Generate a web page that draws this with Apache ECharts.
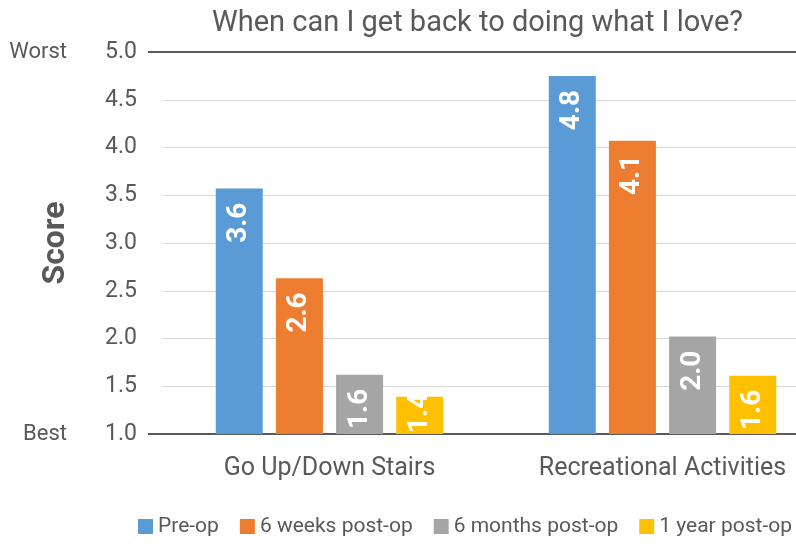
<!DOCTYPE html>
<html style="height: 100%">
<head>
<meta charset="utf-8">
</head>
<body style="height: 100%; margin: 0; overflow: hidden">
	<div id="container" style="width: 829px; height: 546px"></div>
	<script type="text/javascript" src="https://cdn.jsdelivr.net/npm/echarts@6/dist/echarts.min.js"></script>
	<script type="text/javascript">
		var categories = ['Go Up/Down Stairs', 'Recreational Activities'];
		var seriesNames = ['Pre-op', '6 weeks post-op', '6 months post-op', '1 year post-op'];
		var preOp = [3.57, 4.75];
		var sixWeeks = [2.63, 4.07];
		var sixMonths = [1.62, 2.02];
		var oneYear = [1.39, 1.61];
		var colors = ['#5B9BD5', '#ED7D31', '#A5A5A5', '#FFC000'];
		var endLabels = {1: 'Best', 5: 'Worst'};

		var font = 'Roboto';
		var textColor = '#595959';
		var dom = document.getElementById("container");
		var myChart = echarts.init(dom);

		// keep a label inside its bar when the bar is short
		function fitLabel(params) {
			var bar = params.rect, lab = params.labelRect;
			var over = (lab.y + lab.height) - (bar.y + bar.height - 1);
			if (over > 0) {
				return {y: lab.y - over};
			}
			return {};
		}

		function makeSeries(name, values, color) {
			return {
				name: name,
				type: 'bar',
				data: values,
				barWidth: 47,
				barGap: '28%',
				itemStyle: {color: color},
				labelLayout: fitLabel,
				label: {
					show: true,
					position: 'insideTop',
					rotate: 90,
					align: 'right',
					verticalAlign: 'middle',
					distance: 14,
					color: '#fff',
					fontFamily: font,
					fontWeight: 'bold',
					fontSize: 28,
					formatter: function (p) { return p.value.toFixed(1); }
				}
			};
		}

		var option = {
			animation: false,
			color: colors,
			title: {
				text: 'When can I get back to doing what I love?',
				left: 207,
				top: 4,
				textStyle: {color: textColor, fontFamily: font, fontWeight: 'normal', fontSize: 29}
			},
			legend: {
				left: 133,
				bottom: 4,
				icon: 'rect',
				itemWidth: 15,
				itemHeight: 15,
				itemGap: 21,
				textStyle: {color: textColor, fontFamily: font, fontSize: 21}
			},
			grid: {left: 163, top: 52, width: 666, height: 382, outerBoundsMode: 'none'},
			xAxis: {
				type: 'category',
				data: categories,
				axisLine: {lineStyle: {color: textColor, width: 2}},
				axisTick: {show: false},
				axisLabel: {color: textColor, fontFamily: font, fontSize: 25, margin: 22}
			},
			yAxis: [{
				type: 'value',
				min: 1,
				max: 5,
				interval: 0.5,
				name: 'Score',
				nameLocation: 'middle',
				nameGap: 91,
				nameTextStyle: {color: textColor, fontFamily: font, fontWeight: 'bold', fontSize: 32},
				axisLine: {show: false},
				axisTick: {show: false},
				splitLine: {lineStyle: {color: '#D9D9D9', width: 1}},
				axisLabel: {
					color: textColor, fontFamily: font, fontSize: 23, margin: 26,
					formatter: function (v) { return v.toFixed(1); }
				}
			}, {
				type: 'value',
				position: 'left',
				min: 1,
				max: 5,
				interval: 4,
				axisLine: {show: false},
				axisTick: {show: true, inside: false, length: 15, lineStyle: {color: textColor, width: 2}},
				splitLine: {lineStyle: {color: textColor, width: 2}},
				axisLabel: {
					color: textColor, fontFamily: font, fontSize: 22, margin: 96,
					formatter: function (v) { return endLabels[v] || ''; },
					padding: [3, 0, 0, 0]
				}
			}],
			series: [
				makeSeries(seriesNames[0], preOp, colors[0]),
				makeSeries(seriesNames[1], sixWeeks, colors[1]),
				makeSeries(seriesNames[2], sixMonths, colors[2]),
				makeSeries(seriesNames[3], oneYear, colors[3])
			]
		};
		myChart.setOption(option);
	</script>
</body>
</html>
